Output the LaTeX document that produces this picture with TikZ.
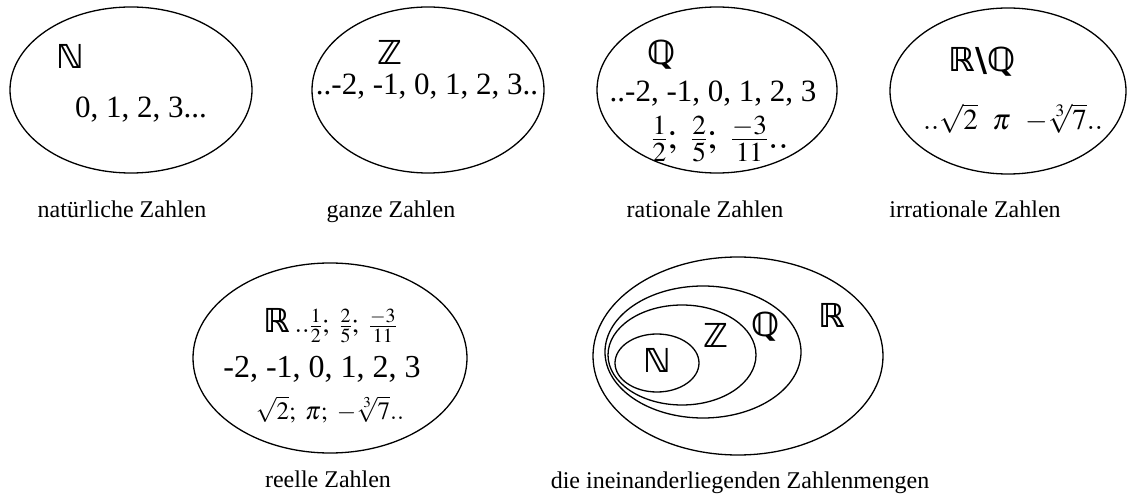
\documentclass[tikz,border=0pt]{standalone}
\usepackage{mathptmx}
\usepackage{fontspec}
\setmainfont{Liberation Serif}
\newfontfamily\bbfont{DejaVu Sans}
\usetikzlibrary{shapes.geometric}

\begin{document}
\begin{tikzpicture}[x=1pt, y=-1pt,
    menge/.style={draw, ellipse, line width=1.3pt, inner sep=0pt},
    bb/.style={font=\bbfont\bfseries\fontsize{33}{38}\selectfont, inner sep=0pt, anchor=base},
    zahl/.style={font=\fontsize{31}{36}\selectfont, inner sep=0pt, anchor=base},
    titel/.style={font=\fontsize{24}{28}\selectfont, inner sep=0pt, anchor=base},
  ]
  \useasboundingbox (0,0) rectangle (1128,497);

  % obere Reihe
  \node[menge, minimum width=242pt, minimum height=166pt] (nat) at (131,90) {};
  \node[menge, minimum width=232pt, minimum height=166pt] (ganz) at (428,90) {};
  \node[menge, minimum width=240pt, minimum height=166pt] (rat) at (717,90) {};
  \node[menge, minimum width=236pt, minimum height=166pt] (irr) at (1008,91) {};

  \node[bb] (natN) at (70,69) {ℕ};
  \node[zahl] (natZ) at (141,118) {0, 1, 2, 3...};
  \node[bb] (ganzZ) at (390,65) {ℤ};
  \node[zahl] (ganzW) at (427,95) {..-2, -1, 0, 1, 2, 3..};
  \node[bb] (ratQ) at (662,65) {ℚ};
  \node[zahl] (ratW) at (713,102) {..-2, -1, 0, 1, 2, 3};
  \node[zahl, anchor=center, font=\fontsize{37}{40}\selectfont] (ratB) at (720,139)
    {$\frac{1}{2};\ \frac{2}{5};\ \frac{-3}{11}..$};
  \node[bb] (irrRQ) at (982,72) {ℝ\textbackslash ℚ};
  \node[zahl, font=\fontsize{29}{34}\selectfont] (irrW) at (1013,130)
    {$..\sqrt{2}\ \ \pi\ \ {-}\sqrt[3]{7}..$};

  \node[titel] (tNat) at (122,218) {natürliche Zahlen};
  \node[titel] (tGanz) at (391,218) {ganze Zahlen};
  \node[titel] (tRat) at (705,218) {rationale Zahlen};
  \node[titel] (tIrr) at (975,218) {irrationale Zahlen};

  % untere Reihe
  \node[menge, minimum width=274pt, minimum height=190pt] (reell) at (330,358) {};
  \node[zahl] (reellA) at (330,333)
    {{\bbfont\bfseries\fontsize{33}{38}\selectfont ℝ}\,{\fontsize{27}{30}\selectfont$..\frac{1}{2};\ \frac{2}{5};\ \frac{-3}{11}$}};
  \node[zahl, font=\fontsize{32}{34}\selectfont] (reellB) at (322,377) {-2, -1, 0, 1, 2, 3};
  \node[zahl, font=\fontsize{25}{28}\selectfont] (reellC) at (330,419) {$\sqrt{2};\ \pi;\ -\sqrt[3]{7}..$};
  \node[titel] (tReell) at (328,487) {reelle Zahlen};

  % ineinanderliegende Mengen
  \node[menge, minimum width=290pt, minimum height=198pt] (mR) at (738,356) {};
  \node[menge, minimum width=196pt, minimum height=132pt] (mQ) at (703,352) {};
  \node[menge, minimum width=148pt, minimum height=100pt] (mZ) at (682,355) {};
  \node[menge, minimum width=84pt, minimum height=58pt] (mN) at (657,363) {};
  \node[bb] (lN) at (657,372) {ℕ};
  \node[bb] (lZ) at (716,347) {ℤ};
  \node[bb] (lQ) at (766,336) {ℚ};
  \node[bb] (lR) at (832,327) {ℝ};
  \node[titel] (tMengen) at (740,488) {die ineinanderliegenden Zahlenmengen};

\end{tikzpicture}
\end{document}
